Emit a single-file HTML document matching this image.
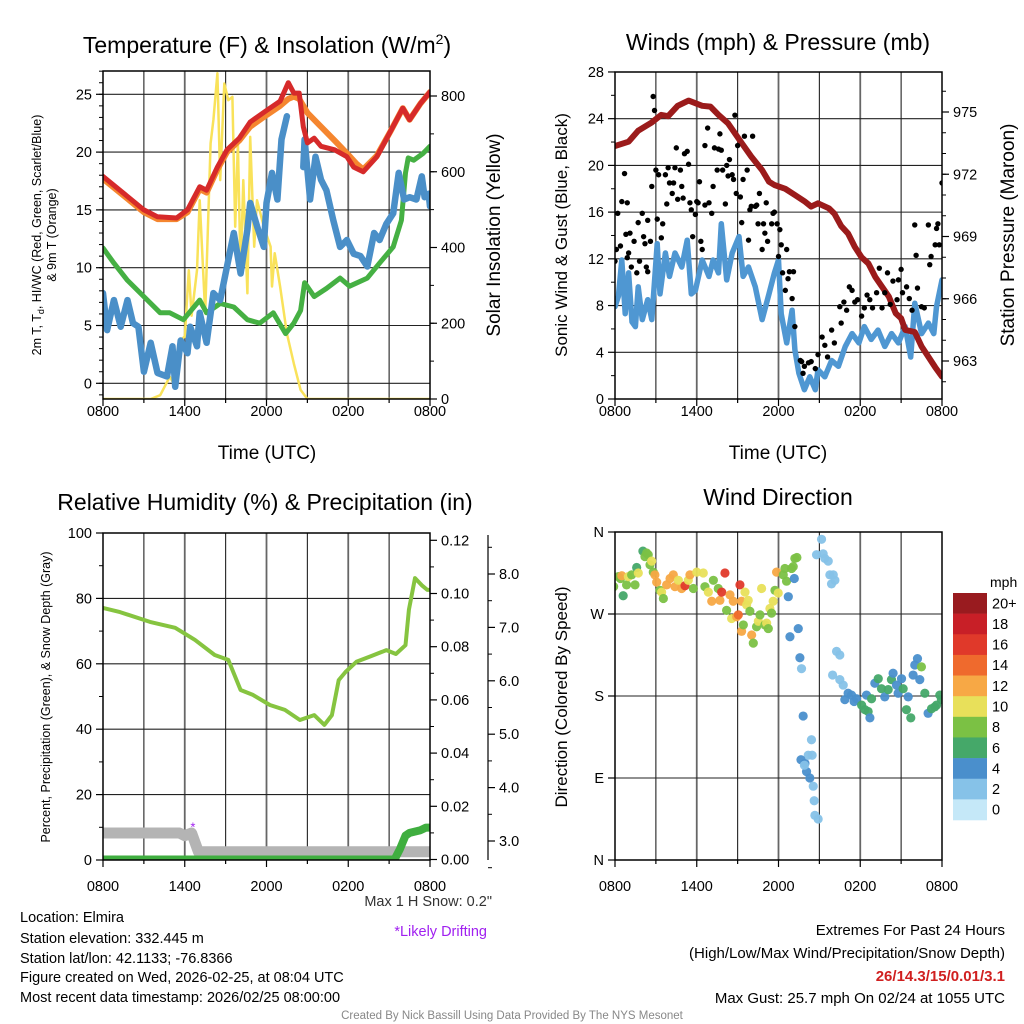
<!DOCTYPE html>
<html><head><meta charset="utf-8"><title>Mesonet Meteogram - Elmira</title>
<style>
html,body{margin:0;padding:0;background:#fff;}
svg{display:block;font-family:"Liberation Sans",Arial,sans-serif;}
</style></head>
<body>
<svg id="chart" xmlns="http://www.w3.org/2000/svg" width="1024" height="1024" viewBox="0 0 1024 1024">
<defs>
<clipPath id="c1"><rect x="103" y="71" width="327" height="328"/></clipPath>
<clipPath id="c2"><rect x="615" y="72" width="327" height="327"/></clipPath>
<clipPath id="c3"><rect x="103" y="533" width="327" height="327"/></clipPath>
<clipPath id="c4"><rect x="615" y="532" width="327" height="328"/></clipPath>
</defs>
<rect x="0" y="0" width="1024" height="1024" fill="#fff"/>
<g id="layer"></g>

<text x="267" y="53" font-size="23" text-anchor="middle">Temperature (F) &amp; Insolation (W/m<tspan font-size="14" dy="-9">2</tspan><tspan dy="9">)</tspan></text>
<text x="778" y="50" font-size="23" text-anchor="middle">Winds (mph) &amp; Pressure (mb)</text>
<text x="265" y="510" font-size="23" text-anchor="middle">Relative Humidity (%) &amp; Precipitation (in)</text>
<text x="778" y="505" font-size="23" text-anchor="middle">Wind Direction</text>

<text x="267" y="459" font-size="19" text-anchor="middle">Time (UTC)</text>
<text x="778" y="459" font-size="19" text-anchor="middle">Time (UTC)</text>

<text transform="translate(41,235) rotate(-90)" font-size="12.5" text-anchor="middle">2m T, T<tspan font-size="9" dy="3">d</tspan><tspan dy="-3">, HI/WC (Red, Green, Scarlet/Blue)</tspan></text>
<text transform="translate(56,235) rotate(-90)" font-size="12.5" text-anchor="middle">&amp; 9m T (Orange)</text>
<text transform="translate(500,235) rotate(-90)" font-size="19" text-anchor="middle">Solar Insolation (Yellow)</text>
<text transform="translate(567,235) rotate(-90)" font-size="17" text-anchor="middle">Sonic Wind &amp; Gust (Blue, Black)</text>
<text transform="translate(1014,235) rotate(-90)" font-size="19" text-anchor="middle">Station Pressure (Maroon)</text>
<text transform="translate(50,697) rotate(-90)" font-size="12.5" text-anchor="middle">Percent, Precipitation (Green), &amp; Snow Depth (Gray)</text>
<text transform="translate(567,697) rotate(-90)" font-size="17" text-anchor="middle">Direction (Colored By Speed)</text>

<text x="492" y="906" font-size="14.5" text-anchor="end" fill="#333">Max 1 H Snow: 0.2"</text>
<text x="487" y="936" font-size="14.5" text-anchor="end" fill="#a020f0">*Likely Drifting</text>

<g font-size="14.5">
<text x="20" y="922">Location: Elmira</text>
<text x="20" y="943">Station elevation: 332.445 m</text>
<text x="20" y="963">Station lat/lon: 42.1133; -76.8366</text>
<text x="20" y="982">Figure created on Wed, 2026-02-25, at 08:04 UTC</text>
<text x="20" y="1002">Most recent data timestamp: 2026/02/25 08:00:00</text>
</g>
<g font-size="15" text-anchor="end">
<text x="1005" y="935">Extremes For Past 24 Hours</text>
<text x="1005" y="958">(High/Low/Max Wind/Precipitation/Snow Depth)</text>
<text x="1005" y="981" fill="#d02020" font-weight="bold">26/14.3/15/0.01/3.1</text>
<text x="1005" y="1003">Max Gust: 25.7 mph On 02/24 at 1055 UTC</text>
</g>
<text x="512" y="1019" font-size="11.5" text-anchor="middle" fill="#888">Created By Nick Bassill Using Data Provided By The NYS Mesonet</text>
<text x="990" y="587" font-size="14">mph</text>
</svg>

<script>
// ---------- Panel 1 data (hours since 0800 UTC) ----------
const tempHours=[0,3,4,5.4,6.2,7.1,7.6,8.4,9.1,10,10.8,12,13,13.6,14,14.4,14.7,15,15.5,16,17,17.9,18.4,19.1,20.1,21.1,22,22.5,23.3,24];
const tempVals=[17.9,15.0,14.4,14.3,15.0,17.0,16.7,18.7,20.2,21.2,22.6,23.6,24.4,26.0,25.1,25.1,22.2,20.8,21.2,20.5,20.2,19.6,18.7,18.3,19.6,21.8,23.8,22.8,24.2,25.2];
const t9Hours=[0,3,4,5.4,6.2,7.1,7.6,8.4,9.1,10,10.8,12,13,13.6,14,14.4,15,16,17,17.9,18.6,19.1,20.1,21.1,22,22.5,23.3,24];
const t9Vals=[17.7,14.8,14.2,14.2,14.8,16.8,16.5,18.5,20.0,21.0,22.2,23.2,24.0,24.6,24.8,24.6,23.4,22.2,21.0,19.9,19.0,18.5,19.7,21.8,23.8,22.8,24.2,25.2];
const dewHours=[0,0.8,1.8,3,4.2,4.9,5.9,7.1,7.6,8.6,9.6,10.6,11.5,12.5,13.4,14,14.5,14.8,15.5,16.4,17.4,18.1,19.4,20.3,21.3,21.9,22.2,22.4,22.8,23.5,24];
const dewVals=[11.7,10.4,8.9,7.5,6.1,6.1,5.5,7.2,6.1,6.9,6.6,5.5,5.2,6.1,4.3,5.2,6.3,8.7,7.5,8.2,9.1,8.4,9.1,10.4,11.8,14.1,18.2,19.5,19.3,19.9,20.5];
const wcHours=[0,0.3,0.8,1.3,1.8,2.2,2.6,3,3.5,4,4.7,5.1,5.3,5.7,6.2,6.4,6.9,7.1,7.6,8.1,8.6,9.1,9.6,10.1,10.6,10.8,11.3,11.8,12,12.4,12.8,13.1,13.5];
const wcVals=[7.8,4.6,7.2,4.9,7.2,5.2,4.9,1.0,3.5,0.9,0.6,3.2,-0.3,3.7,2.6,4.9,3.2,6.1,3.5,7.8,7.2,10.1,13.0,9.5,13.3,15.6,13.6,11.8,15.6,18.2,15.9,21.1,23.1];
const wc2Hours=[14.7,14.8,15.2,15.6,16,16.4,16.9,17.4,17.9,18.4,18.9,19.4,19.9,20.3,20.8,21.3,21.7,22.1,22.5,23,23.4,23.6,23.9,24];
const wc2Vals=[18.7,21.1,15.9,19.6,17.6,16.7,14.1,11.8,12.4,11.2,11.0,10.1,13.0,12.4,13.8,14.7,18.2,15.9,16.1,15.9,17.9,16.1,16.4,15.3];
const solHours=[0,3.5,4.2,4.9,5.2,5.7,6.0,6.3,6.5,6.9,7.1,7.5,7.9,8.1,8.4,8.6,8.9,9.2,9.5,9.7,9.9,10.1,10.3,10.6,10.8,11.1,11.3,11.8,12.3,12.4,12.6,13,13.5,14,14.5,15,24];
const solVals=[0,0,10,59,40,156,165,340,220,340,525,226,675,737,860,578,833,789,798,455,675,332,578,279,692,402,525,455,402,297,385,297,173,94,24,0,0];
const tempTicks=[0,5,10,15,20,25];
const solTicks=[0,200,400,600,800];
const timeLabels=["0800","1400","2000","0200","0800"];

// ---------- Panel 2 data ----------
const presHours=[0,1,1.7,2.7,3.4,3.9,4.6,5.4,6.4,7,7.6,8.3,9.3,10,10.8,11.3,11.7,12.5,13.2,13.9,14.4,14.9,15.7,16.1,16.6,17.1,17.6,18.1,18.6,19.1,19.6,20.1,20.6,21,21.3,22,22.5,23,23.5,24];
const presVals=[973.36,973.57,974.1,974.5,974.86,974.8,975.3,975.55,975.3,975.26,974.86,974.45,973.5,972.85,972.2,971.64,971.48,971.3,971.0,970.7,970.44,970.6,970.36,970.1,969.5,969.15,968.5,968.0,967.7,967.06,966.58,966.1,965.3,965.06,964.5,964.4,963.7,963.2,962.7,962.25];
const windHours=[0,0.25,0.5,0.75,1,1.25,1.5,1.7,2,2.4,2.7,3.1,3.3,3.7,4,4.4,4.9,5.3,5.6,5.9,6.4,6.9,7.2,7.6,7.8,8.2,8.6,9.1,9.4,9.8,10.3,10.8,11.3,11.7,12,12.2,12.6,13,13.2,13.5,13.9,14.3,14.7,14.9,15.4,15.9,16.4,16.9,17.4,17.9,18.3,18.8,19.3,19.8,20.3,20.8,21.3,21.7,22,22.5,23,23.4,23.6,24];
const windVals=[7.9,8.8,11.9,7.3,10.8,6.6,6.2,9.6,6.8,8.5,6.8,13.3,9.0,12.5,10.5,12.5,11.3,13.6,9.0,9.3,11.9,10.5,11.9,10.8,15.0,10.2,12.5,13.9,10.5,11.3,9.6,6.8,9.0,10.8,11.9,7.3,4.8,7.6,4.2,2.2,0.8,1.9,0.8,2.5,1.9,3.3,2.8,4.5,5.6,4.8,6.2,5.1,5.9,4.5,5.6,4.8,6.2,3.6,8.2,5.6,6.5,5.6,7.9,10.2];
const gustHours=[0,0.1,0.2,0.4,0.5,0.7,0.9,0.9,1,0.8,1.1,1.2,1.4,1.6,1.7,1.8,2,2.1,2.2,2.3,2.4,2.4,2.6,2.7,2.8,2.9,3,3.1,3.2,3.4,3.5,3.7,3.8,3.9,4,4.2,4.3,4.4,4.5,4.6,4.8,4.9,5,5.1,5.3,5.4,5.5,5.6,5.7,5.9,6,6.1,6.2,6.3,6.4,6.6,6.6,6.8,6.9,7.1,7.2,7.3,7.5,7.6,7.7,7.8,7.9,8.1,8.2,8.3,8.4,8.6,8.7,8.8,8.9,9,9.2,9.3,9.4,9.5,9.7,9.8,9.9,10,10.1,10.3,10.4,10.5,10.6,10.8,10.9,11,11.1,11.2,11.5,11.6,11.7,11.9,12,12.1,12.2,12.3,12.5,12.6,12.7,12.8,13,13.1,13.2,13.6,13.7,13.8,13.9,14.2,14.4,14.7,14.9,15.2,15.4,15.6,15.9,16.1,16.5,16.6,16.8,17,17.2,17.4,17.6,17.8,18.1,18.3,18.5,18.7,18.9,19.2,19.4,19.6,19.8,20,20.2,20.4,20.7,20.8,21,21.1,21.4,21.6,21.8,22,22.1,22.2,22.5,22.7,23,23.1,23.2,23.5,23.6,23.7,23.8,24];
const gustVals=[11.8,12.8,15.9,13.1,16.9,19.3,12.1,16.8,12.5,14.1,14.2,11.3,13.5,10.8,15.1,11.8,15.9,13.9,13.3,11.3,15.3,10.9,13.5,18.2,25.9,24.7,19.6,15.4,19.2,13.8,15.0,19.2,16.7,19.8,18.5,17.6,18.5,19.8,21.5,17.1,19.6,18.2,17.2,21.0,21.2,20.1,16.8,16.2,13.9,15.8,16.9,16.8,18.6,13.5,12.8,16.6,21.7,23.2,16.8,15.9,18.2,21.5,19.6,21.4,22.7,21.3,19.6,16.7,20.0,19.1,20.5,19.2,18.8,24.3,17.6,21.7,17.3,15.1,18.8,22.5,19.6,13.6,16.2,16.5,22.5,16.5,16.6,15.0,17.6,12.8,15.0,14.2,16.8,13.5,15.0,15.9,16.0,15.0,12.2,14.5,13.2,10.8,9.3,12.8,10.3,10.9,8.6,10.9,6.2,3.3,3.2,2.2,2.8,3.1,3.2,2.6,3.8,5.3,4.6,3.6,5.9,4.8,7.9,6.5,8.3,7.6,9.6,9.3,8.3,8.5,7.1,7.8,8.9,8.5,7.8,9.1,11.2,7.8,9.1,10.8,8.1,10.1,8.5,10.2,11.1,9.1,9.6,8.6,7.6,14.9,12.3,9.5,7.9,7.8,14.9,11.5,12.2,13.2,14.6,15.0,13.2,18.5];
const windTicks=[0,4,8,12,16,20,24,28];
const presTicks=[963,966,969,972,975];

// ---------- Panel 3 data ----------
const rhHours=[0,1.25,3.45,5.3,6.75,8.2,9.2,10.1,11.0,12.25,13.35,14.45,15.5,16.25,16.8,17.3,17.8,18.6,19.7,20.8,21.5,22.2,22.45,22.9,23.4,23.8,24];
const rhVals=[77.1,75.8,72.8,71.0,67.3,62.7,61.2,52.0,50.5,47.4,45.9,42.8,44.3,41.3,44.3,55.0,57.5,60.6,62.4,64.2,63.0,65.7,76.5,86.2,84.0,82.6,82.6];
const pcpHours=[0,21.4,21.8,22.2,22.5,23.3,23.7,24];
const pcpVals=[0,0,0.004,0.009,0.010,0.011,0.012,0.012];
const snowHours=[0,5.6,6.0,6.5,7.0,24];
const snowVals=[3.15,3.15,3.1,3.15,2.8,2.8];
const rhTicks=[0,20,40,60,80,100];
const pcpTicks=[0,0.02,0.04,0.06,0.08,0.10,0.12];
const snowTicks=[3,4,5,6,7,8];

// ---------- Panel 4 data ----------
const dirHours=[-0.1,0.25,0.4,0.5,0.6,0.85,0.98,1.22,1.47,1.59,1.71,2.05,2.2,2.32,2.44,2.57,2.69,2.81,2.93,3.06,3.3,3.42,3.55,3.79,4.04,4.28,4.4,4.65,4.89,5.14,5.38,5.5,5.75,6.0,6.48,6.6,6.85,7.1,7.22,7.58,7.7,7.83,8.07,8.19,8.44,8.56,8.68,8.93,9.05,9.17,9.29,9.29,9.42,9.54,9.66,9.78,9.9,10.03,10.15,10.39,10.52,10.64,10.76,11.0,11.13,11.25,11.37,11.49,11.61,11.74,11.86,11.98,12.35,12.47,12.59,12.72,12.84,12.96,13.08,13.2,13.16,13.35,13.45,13.57,13.69,13.81,13.94,14.06,14.18,14.3,14.42,14.47,13.65,13.9,14.55,14.62,14.67,14.91,15.16,15.28,14.79,15.4,15.65,15.77,16.02,16.14,15.89,16.26,16.5,15.97,16.5,16.75,16.87,17.11,17.36,17.55,17.73,18.1,18.34,18.46,18.58,18.71,18.83,19.07,19.32,19.56,19.8,20.05,20.29,20.41,20.66,20.78,21.03,21.15,21.39,21.52,21.71,21.88,22.0,22.2,22.37,22.49,22.74,22.98,23.23,23.47,23.6,23.84,23.96];
const dirVals=[300,311,309,312,290,302,311,313,302,321,315,339,333,337,335,324,328,316,313,305,296,294,287,302,309,313,300,307,298,301,307,313,298,316,315,300,294,284,307,298,285,294,315,274,291,265,284,267,269,302,284,251,258,294,280,285,273,247,238,256,262,269,298,258,260,254,276,271,284,296,316,293,313,320,306,289,245,320,322,331,309,332,254,222,210,158,106,97,115,90,132,115,110,104,81,65,49,45,352,336,335,331,328,313,313,307,303,229,225,203,198,192,176,183,181,174,177,170,165,181,163,156,177,194,199,188,179,187,198,205,192,183,199,188,165,179,156,203,214,221,198,212,183,161,166,168,170,181,176,170,181,177];
const dirSpeeds=[7,7,8,12,6,8,10,8,7,6,10,6,7,8,7,8,10,8,12,12,8,10,8,12,12,12,12,10,12,15,10,12,7,10,10,7,10,12,8,8,12,15,15,8,12,10,12,12,14,16,12,12,7,10,10,10,8,12,7,7,10,7,10,8,10,7,10,8,10,7,12,10,8,8,7,4,4,7,7,7,4,8,3,3,1,4,4,4,2,4,1,1,4,1,2,1,1,1,1,2,2,2,2,2,2,2,2,2,2,2,2,2,3,4,4,4,4,6,6,4,6,4,6,4,6,6,4,6,6,4,4,4,4,6,6,4,6,4,4,4,4,7,6,4,6,6,6,6,6,8,6,10];
const speedLevels=["0","2","4","6","8","10","12","14","16","18","20+"];
const speedColors=["#c5e8f8","#86c2e8","#4a8fcc","#45a869","#7bc144","#e8e05a","#f7a845","#ef6a2d","#e0392a","#c81f27","#991b1f"];
const dirLabels=["N","E","S","W","N"];

// ---------- drawing ----------
const NS='http://www.w3.org/2000/svg';
const layer=document.getElementById('layer');
function mk(tag,attrs,parent){const e=document.createElementNS(NS,tag);for(const k in attrs)e.setAttribute(k,attrs[k]);(parent||layer).appendChild(e);return e;}
function txt(x,y,s,size,anchor,parent){const e=mk('text',{x:x,y:y,'font-size':size,'text-anchor':anchor},parent);e.textContent=s;return e;}

const P1={x0:103,x1:430,y0:71,y1:399};
const P2={x0:615,x1:942,y0:72,y1:399};
const P3={x0:103,x1:430,y0:533,y1:860};
const P4={x0:615,x1:942,y0:532,y1:860};
function xs(P,h){return P.x0+h*(P.x1-P.x0)/24;}
const y1L=v=>383.3-v*11.56;
const y1R=v=>399-v*303/800;
const y2L=v=>399-v*11.68;
const y2R=p=>361-(p-963)*20.75;
const y3L=v=>860-v*3.27;
const y3P=v=>859.5-v*2660;
const y3S=v=>841-(v-3)*53.4;
const y4=d=>860-d*328/360;

function grid(P,yvals,yfn,name){
  const g=mk('g',{stroke:'#222','stroke-width':1.1});
  
  
  for(let h=3;h<24;h+=3){const l=mk('line',{x1:xs(P,h),x2:xs(P,h),y1:P.y0,y2:P.y1,stroke:(h%6==0?'#666':'#222'),'stroke-width':(h%6==0?1.8:1.1)},g);
    
    }
  yvals.forEach(v=>{const y=yfn(v);if(y<=P.y0+1||y>=P.y1-1)return;const l=mk('line',{x1:P.x0,x2:P.x1,y1:y,y2:y},g);
    
    });
}
function frame(P,name,labelY){
  const r=mk('rect',{x:P.x0,y:P.y0,width:P.x1-P.x0,height:P.y1-P.y0,fill:'none',stroke:'#000','stroke-width':1.5});
  
  
  for(let h=0;h<=24;h+=3){const t=mk('line',{x1:xs(P,h),x2:xs(P,h),y1:P.y1,y2:P.y1+(h%6==0?7:4),stroke:'#000','stroke-width':1.2});
    
    }
  timeLabels.forEach((s,i)=>{const t=txt(xs(P,i*6),labelY,s,14.5,'middle');
    
    });
}
function yaxis(P,side,vals,labels,fn,minor,name,xpos){
  const x=xpos!==undefined?xpos:(side==='L'?P.x0:P.x1);const d=side==='L'?-1:1;
  vals.forEach((v,i)=>{const y=fn(v);
    const t=mk('line',{x1:x,x2:x+d*7,y1:y,y2:y,stroke:'#000','stroke-width':1.2});
    
    
    const l=txt(x+d*11,y+5,labels[i],14.5,side==='L'?'end':'start');
    
    });
  minor.forEach(v=>{const y=fn(v);const t=mk('line',{x1:x,x2:x+d*4,y1:y,y2:y,stroke:'#000','stroke-width':1});
    
    });
}
function line(P,hours,vals,yfn,color,w,clip,name){
  const d=hours.map((h,i)=>(i?'L':'M')+xs(P,h).toFixed(1)+','+yfn(vals[i]).toFixed(1)).join('');
  const p=mk('path',{d:d,fill:'none',stroke:color,'stroke-width':w,'stroke-linejoin':'round','stroke-linecap':'round','clip-path':'url(#'+clip+')'});
  
  
}
function range(a,b,s){const r=[];for(let v=a;v<=b+1e-9;v+=s)r.push(+v.toFixed(4));return r;}

// Panel 1
grid(P1,tempTicks,y1L,'temp');
line(P1,solHours,solVals,y1R,'#f9e25a',2.5,'c1','insolation-line');
line(P1,dewHours,dewVals,y1L,'#45b043',5,'c1','dewpoint-line');
line(P1,wcHours,wcVals,y1L,'#4a8fc8',6.5,'c1','windchill-line');
line(P1,wc2Hours,wc2Vals,y1L,'#4a8fc8',6.5,'c1','windchill-line-2');
line(P1,t9Hours,t9Vals,y1L,'#f5862f',6,'c1','temp-9m-line');
line(P1,tempHours,tempVals,y1L,'#d62a2a',5,'c1','temp-2m-line');
frame(P1,'temp',416);
yaxis(P1,'L',tempTicks,tempTicks.map(String),y1L,range(-1,27,1),'temp-y');
yaxis(P1,'R',solTicks,solTicks.map(String),y1R,range(100,800,100),'insolation-y');

// Panel 2
grid(P2,windTicks,y2L,'wind');
line(P2,windHours,windVals,y2L,'#4f97d2',5.5,'c2','wind-speed-line');
line(P2,presHours,presVals,y2R,'#9b1b1b',6,'c2','pressure-line');
const gg=mk('g',{fill:'#000','clip-path':'url(#c2)'});


gustHours.forEach((h,i)=>{const c=mk('circle',{cx:xs(P2,h),cy:y2L(gustVals[i]),r:2.7},gg);
  
  });
frame(P2,'wind',416);
yaxis(P2,'L',windTicks,windTicks.map(String),y2L,range(2,26,4),'wind-y');
yaxis(P2,'R',presTicks,presTicks.map(String),y2R,range(962,976,1),'pressure-y');

// Panel 3
grid(P3,rhTicks,y3L,'humidity');
line(P3,snowHours,snowVals,y3S,'#b4b4b4',11,'c3','snow-depth-line');
line(P3,pcpHours,pcpVals,y3P,'#3fae3f',8,'c3','precip-line');
line(P3,rhHours,rhVals,y3L,'#86c440',4,'c3','humidity-line');
const ast=txt(xs(P3,6.6),y3S(3.25)+4,'*',13,'middle');
ast.setAttribute('fill','#a020f0');


frame(P3,'humidity',891);
yaxis(P3,'L',rhTicks,rhTicks.map(String),y3L,range(10,90,20),'humidity-y');
yaxis(P3,'R',pcpTicks,pcpTicks.map(v=>v.toFixed(2)),y3P,range(0.01,0.11,0.02),'precip-y');
const sAx=mk('line',{x1:488,x2:488,y1:535,y2:860,stroke:'#000','stroke-width':1.2});


yaxis(P3,'R',snowTicks,snowTicks.map(v=>v.toFixed(1)),y3S,range(2.5,8.5,0.5).filter(v=>v%1!==0),'snow-y',488);

// Panel 4
grid(P4,[90,180,270],y4,'direction');
const dg=mk('g',{'clip-path':'url(#c4)'});


dirHours.forEach((h,i)=>{const k=Math.min(10,Math.round(dirSpeeds[i]/2));
  const c=mk('circle',{cx:xs(P4,h),cy:y4(dirVals[i]),r:4.6,fill:speedColors[k],'fill-opacity':0.95},dg);
  
  });
frame(P4,'direction',891);
yaxis(P4,'L',[0,90,180,270,360],dirLabels,y4,[],'direction-y');

// Colorbar
const cbTop=593,cbH=227/11;
speedLevels.forEach((s,i)=>{const j=10-i;
  const r=mk('rect',{x:953,y:cbTop+i*cbH,width:34,height:cbH+0.3,fill:speedColors[j]});
  
  
  const t=txt(992,cbTop+i*cbH+cbH/2+5,speedLevels[j],14.5,'start');
  
  });
</script>
</body></html>
